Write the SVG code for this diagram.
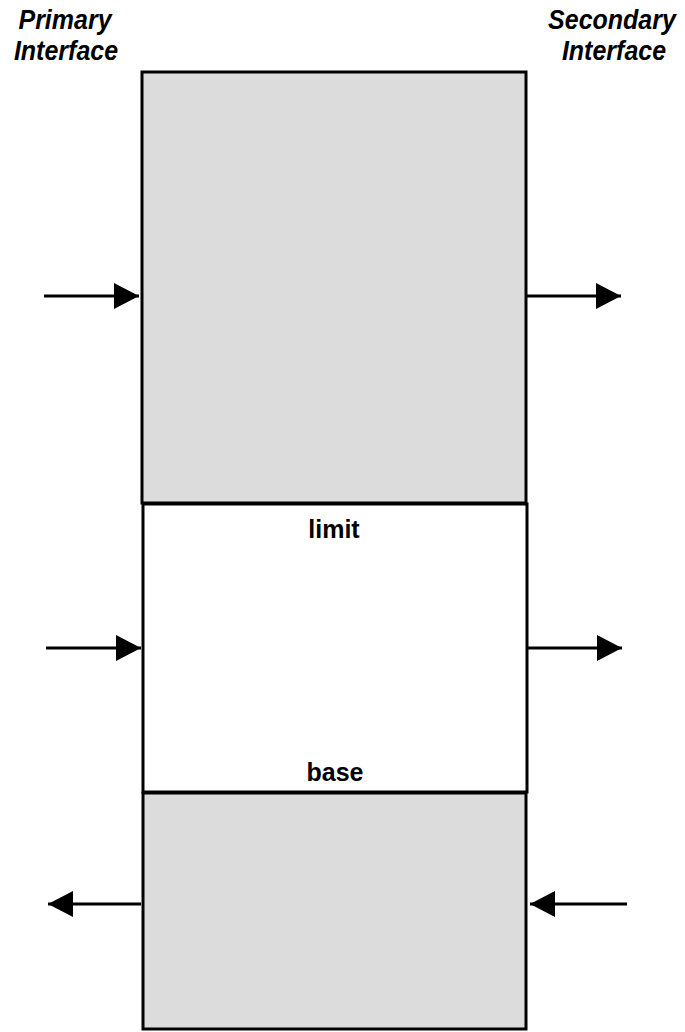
<svg xmlns="http://www.w3.org/2000/svg" width="685" height="1032" viewBox="0 0 685 1032">
<defs>
<style>
.box{stroke:#000;stroke-width:3}
.g{fill:#dcdcdc}
.w{fill:#fff}
.lbl{font-family:"Liberation Sans",Arial,sans-serif;font-weight:bold;font-size:25px;fill:#000;text-anchor:middle}
.it{font-style:italic}
.arr{stroke:#000;stroke-width:3;fill:none}
</style>
<marker id="ah" viewBox="0 0 25 26" refX="25" refY="13" markerWidth="25" markerHeight="26" markerUnits="userSpaceOnUse" orient="auto">
<path d="M0,0 L25,13 L0,26 Z" fill="#000"/>
</marker>
</defs>
<rect width="685" height="1032" fill="#fff"/>
<g id="title-primary"><text class="lbl it" transform="translate(65,29) scale(1,1.12)">Primary</text><text class="lbl it" transform="translate(66,60) scale(1,1.12)">Interface</text></g>
<g id="title-secondary"><text class="lbl it" transform="translate(612,29) scale(1,1.12)">Secondary</text><text class="lbl it" transform="translate(614,60) scale(1,1.12)">Interface</text></g>
<g id="top-block"><rect class="box g" x="142" y="72" width="384" height="431"/></g>
<g id="mid-block"><rect class="box w" x="143" y="504" width="384" height="288"/><text class="lbl" x="334" y="538">limit</text><text class="lbl" x="335" y="781">base</text></g>
<g id="bottom-block"><rect class="box g" x="143" y="793" width="383" height="236"/></g>
<g id="connectors">
<line class="arr" x1="44" y1="296" x2="139" y2="296" marker-end="url(#ah)"/>
<line class="arr" x1="527" y1="296" x2="621" y2="296" marker-end="url(#ah)"/>
<line class="arr" x1="46" y1="648" x2="141" y2="648" marker-end="url(#ah)"/>
<line class="arr" x1="528" y1="648" x2="622" y2="648" marker-end="url(#ah)"/>
<line class="arr" x1="141" y1="904" x2="48" y2="904" marker-end="url(#ah)"/>
<line class="arr" x1="627" y1="904" x2="530" y2="904" marker-end="url(#ah)"/>
</g>
</svg>
